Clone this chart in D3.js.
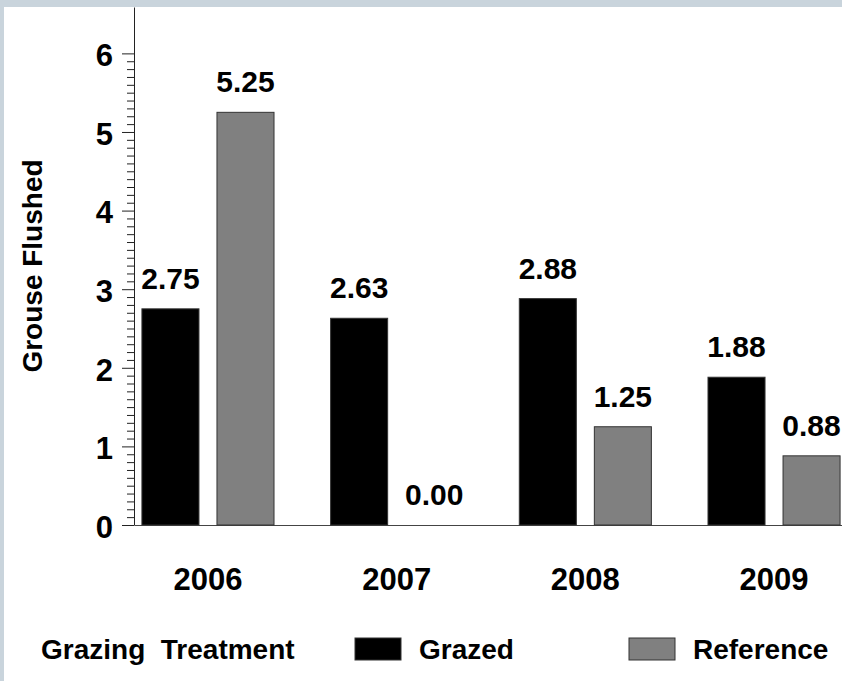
<!DOCTYPE html>
<html>
<head>
<meta charset="utf-8">
<script src="https://cdn.jsdelivr.net/npm/d3@7"></script>
<style>
  body { margin: 0; background: #c9d4dc; }
  svg { display: block; }
  text { font-family: "Liberation Sans", Arial, sans-serif; font-weight: bold; fill: #000; }
</style>
</head>
<body>
<svg id="chart"></svg>
<script>
// values
var years = ["2006", "2007", "2008", "2009"];
var series = ["Grazed", "Reference"];
var grazed = [2.75, 2.63, 2.88, 1.88];
var reference = [5.25, 0.00, 1.25, 0.88];
var yTicks = [0, 1, 2, 3, 4, 5, 6];
var legendTitle = "Grazing Treatment";
var yTitle = "Grouse Flushed";

var colors = { Grazed: "#000000", Reference: "#808080" };

var width = 842, height = 681;

function drawChart() {
  var svg = d3.select("#chart")
      .attr("width", width)
      .attr("height", height);

  svg.append("rect")
      .attr("width", width)
      .attr("height", height)
      .attr("fill", "#c9d4dc");

  svg.append("rect")
      .attr("x", 4)
      .attr("y", 7)
      .attr("width", width)
      .attr("height", height)
      .attr("fill", "#fff");

  var y = d3.scaleLinear()
            .domain([0, 6.59])
            .range([525, 7]);

  var x = d3.scaleBand()
            .domain(years)
            .range([134, 848])
            .paddingInner(0.3)
            .paddingOuter(0.042);

  var xInner = d3.scaleBand()
                 .domain(series)
                 .range([0, x.bandwidth()])
                 .paddingInner(0.24);

  // rows: one per year, one value per series
  var rows = years.map((yr, i) => ({ year: yr, Grazed: grazed[i], Reference: reference[i] }));

  // minor ticks every 0.1
  var minor = d3.range(1, 60).filter(d => d % 10 !== 0).map(d => d / 10);

  svg.append("g")
      .attr("transform", "translate(134,0)")
      .call(d3.axisLeft(y).tickValues(minor).tickSize(7).tickFormat(""))
      .call(g => g.select(".domain").remove())
      .call(g => g.selectAll("line").attr("stroke", "#222"));

  svg.append("g")
      .attr("transform", "translate(134,0)")
      .call(d3.axisLeft(y).tickValues(yTicks).tickSize(12).tickSizeOuter(0).tickPadding(9).tickFormat(d3.format("d")))
      .call(g => g.selectAll("line, .domain").attr("stroke", "#222"))
      .call(g => g.selectAll("text")
          .attr("font-size", 31)
          .attr("font-family", null)
          .attr("dy", "0.4em"));

  svg.append("g")
      .attr("transform", "translate(0," + y(0) + ")")
      .call(d3.axisBottom(x).tickSize(0).tickSizeOuter(0).tickPadding(43))
      .call(g => g.select(".domain").attr("stroke", "#444"))
      .call(g => g.selectAll("text")
          .attr("font-size", 31)
          .attr("font-family", null));

  svg.append("text")
      .attr("transform", "translate(42," + (y(0) + y.range()[1]) / 2 + ") rotate(-90)")
      .attr("text-anchor", "middle")
      .attr("font-size", 28)
      .text(yTitle);

  var groups = svg.selectAll(".year")
                  .data(rows)
                .enter()
                .append("g")
                  .classed("year", true)
                  .attr("transform", d => "translate(" + x(d.year) + ",0)");

  var cells = groups.selectAll(".cell")
                    .data(d => series.map(s => ({ series: s, value: d[s] })))
                  .enter()
                  .append("g")
                    .classed("cell", true);

  cells.append("rect")
      .attr("x", d => xInner(d.series))
      .attr("y", d => y(d.value))
      .attr("width", xInner.bandwidth())
      .attr("height", d => y(0) - y(d.value))
      .attr("fill", d => colors[d.series])
      .attr("stroke", d => d.value > 0 ? "#333" : "none")
      .attr("stroke-width", 1);

  cells.append("text")
      .attr("x", d => xInner(d.series) + xInner.bandwidth() / 2)
      .attr("y", d => y(d.value) - 20)
      .attr("text-anchor", "middle")
      .attr("font-size", 30)
      .text(d => d3.format(".2f")(d.value));

  // legend
  var legend = svg.append("g")
      .attr("transform", "translate(0,659)");

  legend.append("text")
      .attr("x", 41)
      .attr("font-size", 28)
      .attr("xml:space", "preserve")
      .text(legendTitle.replace(" ", "  "));

  var legendX = { Grazed: 355, Reference: 629 };

  var items = legend.selectAll(".item")
                    .data(series)
                  .enter()
                  .append("g")
                    .classed("item", true)
                    .attr("transform", d => "translate(" + legendX[d] + ",0)");

  items.append("rect")
      .attr("y", -21)
      .attr("width", 46)
      .attr("height", 22)
      .attr("fill", d => colors[d])
      .attr("stroke", "#333");

  items.append("text")
      .attr("x", 64)
      .attr("font-size", 28)
      .text(d => d);
}

drawChart();
</script>
</body>
</html>
